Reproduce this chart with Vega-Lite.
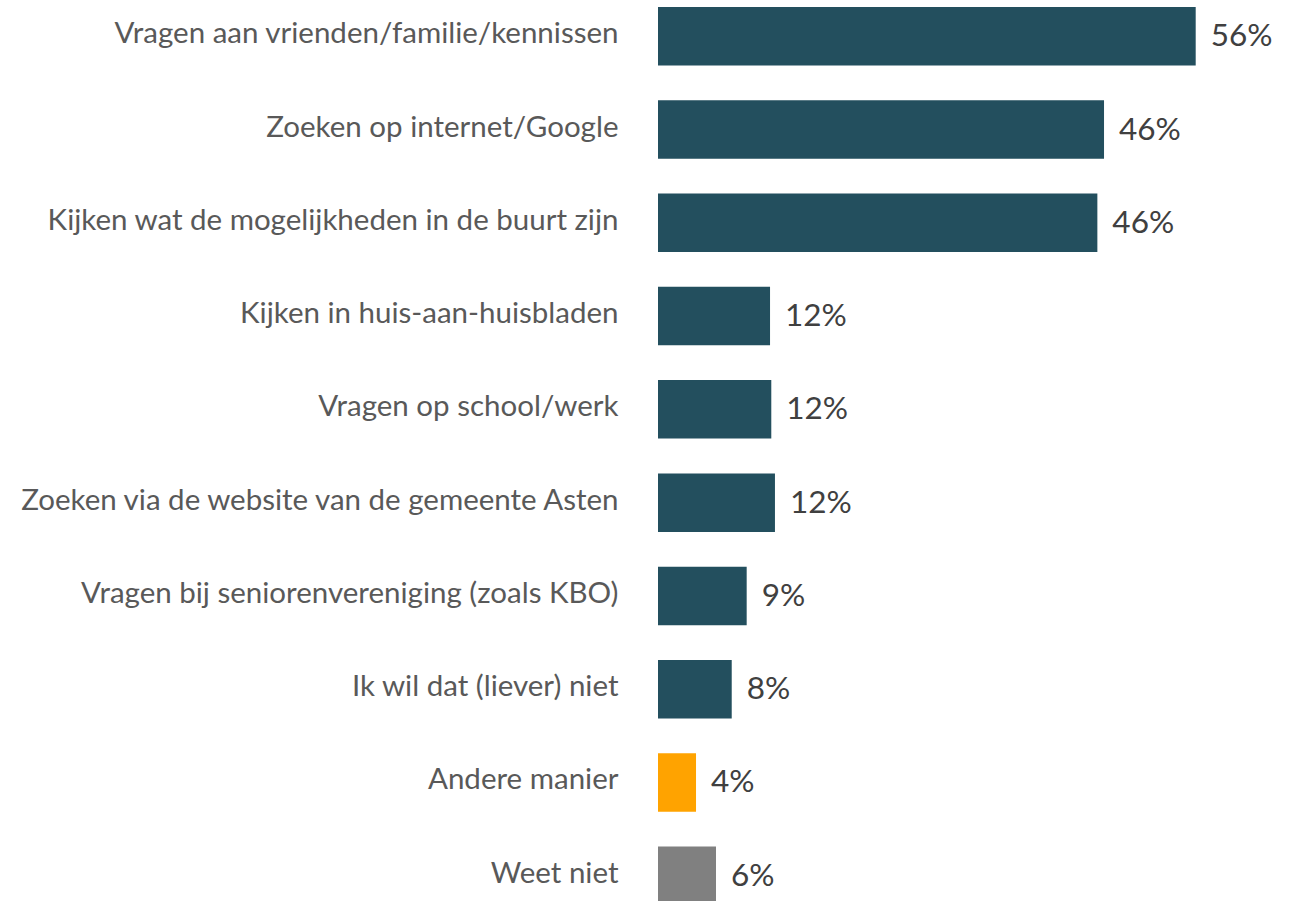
{
  "$schema": "https://vega.github.io/schema/vega-lite/v6.json",
  "width": 579,
  "height": 898,
  "autosize": {"type": "none"},
  "padding": {"left": 658, "top": 7, "right": 59, "bottom": 0},
  "background": "white",
  "config": {"view": {"stroke": null}, "font": "Lato"},
  "data": {
    "values": [
      {"categorie": "Vragen aan vrienden/familie/kennissen", "aandeel": 0.5572, "label": "56%", "groep": "hoofd"},
      {"categorie": "Zoeken op internet/Google", "aandeel": 0.4622, "label": "46%", "groep": "hoofd"},
      {"categorie": "Kijken wat de mogelijkheden in de buurt zijn", "aandeel": 0.4553, "label": "46%", "groep": "hoofd"},
      {"categorie": "Kijken in huis-aan-huisbladen", "aandeel": 0.1161, "label": "12%", "groep": "hoofd"},
      {"categorie": "Vragen op school/werk", "aandeel": 0.1174, "label": "12%", "groep": "hoofd"},
      {"categorie": "Zoeken via de website van de gemeente Asten", "aandeel": 0.1212, "label": "12%", "groep": "hoofd"},
      {"categorie": "Vragen bij seniorenvereniging (zoals KBO)", "aandeel": 0.0919, "label": "9%", "groep": "hoofd"},
      {"categorie": "Ik wil dat (liever) niet", "aandeel": 0.0764, "label": "8%", "groep": "hoofd"},
      {"categorie": "Andere manier", "aandeel": 0.0394, "label": "4%", "groep": "anders"},
      {"categorie": "Weet niet", "aandeel": 0.0601, "label": "6%", "groep": "weetniet"}
    ]
  },
  "encoding": {
    "y": {
      "field": "categorie",
      "type": "nominal",
      "sort": null,
      "scale": {"paddingInner": 0.373, "paddingOuter": 0},
      "axis": {
        "title": null,
        "domain": false,
        "ticks": false,
        "labelPadding": 40,
        "labelOffset": -2,
        "labelFontSize": 29.5,
        "labelColor": "#595959",
        "labelFont": "Lato",
        "labelLimit": 700
      }
    },
    "x": {
      "field": "aandeel",
      "type": "quantitative",
      "scale": {"domain": [0, 0.6], "nice": false, "zero": true},
      "axis": null
    }
  },
  "layer": [
    {
      "mark": {"type": "bar"},
      "encoding": {
        "color": {
          "field": "groep",
          "type": "nominal",
          "scale": {"domain": ["hoofd", "anders", "weetniet"], "range": ["#234F5E", "#FFA300", "#808080"]},
          "legend": null
        }
      }
    },
    {
      "mark": {"type": "text", "align": "left", "baseline": "middle", "dx": 15, "dy": 1, "fontSize": 31.5, "color": "#404040", "font": "Lato"},
      "encoding": {"text": {"field": "label"}}
    }
  ]
}
